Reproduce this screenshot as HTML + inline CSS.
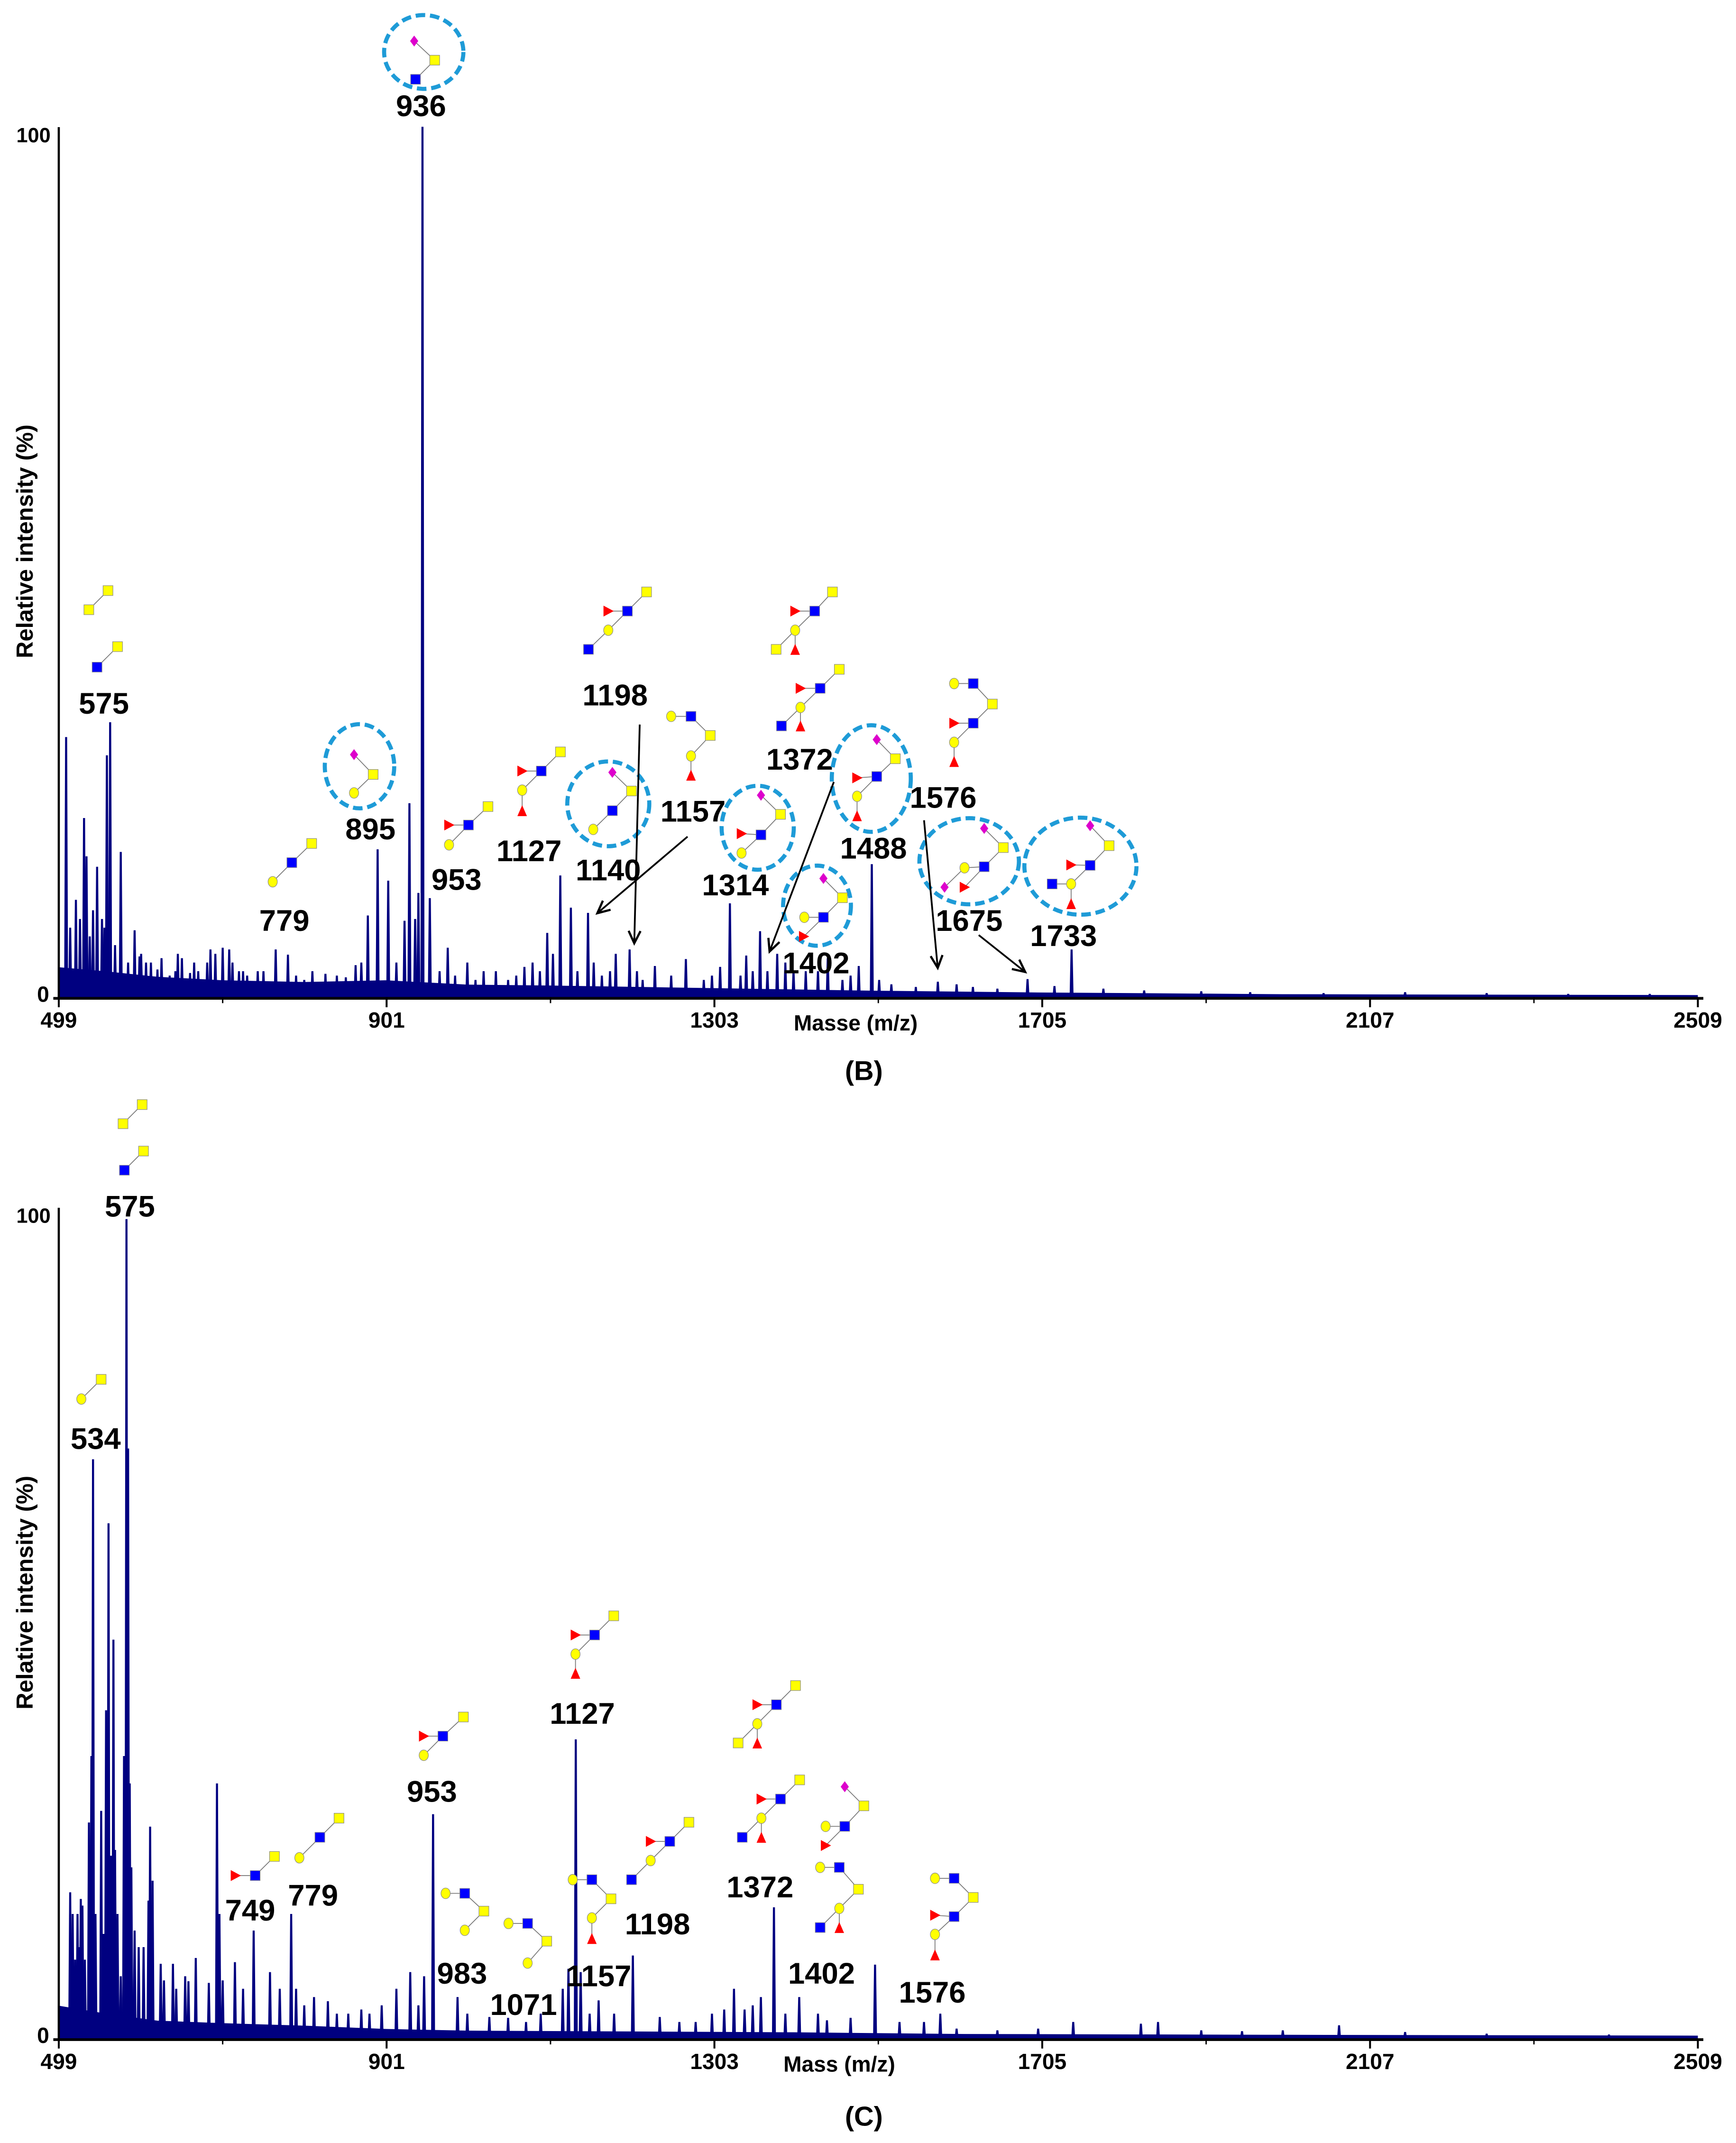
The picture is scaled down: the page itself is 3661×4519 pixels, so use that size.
<!DOCTYPE html>
<html><head><meta charset="utf-8"><style>
html,body{margin:0;padding:0;background:#fff}
svg{display:block}
text{font-family:"Liberation Sans",Arial,sans-serif}
</style></head><body>
<svg id="fig" xmlns="http://www.w3.org/2000/svg" width="3661" height="4519" viewBox="0 0 1270 1567.6">
<rect width="1270" height="1567.6" fill="#fff"/>
<g id="panelB"></g>
<g id="panelC"></g>
</svg>
<script>
// ---------- DATA ----------
const xTickLabels = ["499","901","1303","1705","2107","2509"];
const xTickValues = [499,901,1303,1705,2107,2509];
const yTickLabels = ["0","100"];

const peaksB_mass = [508,520,530,533,537,546,552,558,562,568,575,584,592,598,606,620,635,642,650,660,670,681,691,700,708,720,730,743,765,780,800,826,851,863,878,890,903,913,923,929,936,940,945,954,966,976,985,1010,1035,1050,1070,1089,1098,1114,1127,1135,1148,1165,1182,1199,1215,1230,1268,1290,1322,1335,1342,1359,1368,1380,1400,1430,1442,1460,1480,1496,1520,1550,1577,1620,1650,1687,1720,1741,1780,1830,1900,1960,2050,2150,2250,2350,2450,
 600,612,625,645,665,685,712,725,750,790,810,840,870,1000,1020,1060,1080,1105,1155,1175,1208,1250,1300,1310,1350,1390,1415,1470,1505,1600,513,525,541,555];
const peaksB_int  = [29.9,11.2,20.6,16.2,7,15,9,27.8,31.6,6,16.7,4,7.7,4.7,4,3.2,2.5,3,4.5,2.8,3,4,5,5.7,5.5,3,2.5,3,5.5,4.9,2,2.7,2.3,3.7,9.4,17,13.4,4,8.8,22.3,9,12,100,11.4,3,5.7,2.5,2,3,2,3.5,3,7.4,14,10.3,3,9.7,2.5,5,5.5,2,3.6,4.4,2,10.8,2.5,4.8,7.6,3,5,3,3,4.5,2,3.6,15.3,1.5,1.2,1.8,1.2,1,2.1,1.3,5.5,1,0.8,0.7,0.6,0.5,0.6,0.5,0.4,0.4,
 5,4,4.5,5,4,5.5,4,3,3,2.5,3,2.5,4,4,3,2.5,4,5,4,3,3,2.5,2.5,3.5,3,4,3,2.5,2,1.5,8,9,10,8];
const noiseB_mass = [499,560,620,700,800,900,1000,1100,1300,1500,1700,2000,2509];
const noiseB_level = [3.5,3,2.4,2,1.8,2,1.5,1.4,1.1,0.8,0.6,0.4,0.3];

const peaksC_mass = [513,516,519,522,524,526,528,531,536,539,541,544,551,554,557,560,563,566,568,571,575,579,582,584,586,588,592,597,603,609,611,614,624,628,639,643,654,658,667,683,693,696,700,715,725,738,758,770,784,812,829,854,880,913,930,947,958,988,1027,1072,1117,1124,1133,1139,1161,1203,1236,1280,1315,1327,1340,1360,1376,1407,1441,1500,1580,1600,1650,1700,1743,1826,1847,1900,1950,2000,2069,2150,2250,2400,
 790,800,840,870,895,940,1000,1050,1090,1150,1180,1260,1300,1350,1390,1430,1470,1530,1560];
const peaksC_int  = [17.6,15,9.5,15,11,16.8,16,9.5,26,34,69.7,15,27.4,12.6,39.5,62,22,48,22.7,15,7.5,34,98.6,71,30.7,20.6,13,11,11,16.6,25.5,19,9,7,9,6,7.5,6.9,9.7,6.7,30.7,15,7,9.2,6,13,8,6,15,5,4.5,3,3,6,8,7.5,27,5,2.6,2,6,8.4,36,8,4.6,10,2.6,2,3.5,6,3.5,5,15.8,5,2.2,8.9,3,1.2,1,1.2,2,1.8,2,1,0.9,1,1.6,0.8,0.6,0.5,
 6,4,3,3.5,4,4,3,2.5,3,3,3,2,3,4,3,3,2.5,2,2];
const noiseC_mass = [499,560,620,700,800,900,1000,1200,1400,1600,2000,2509];
const noiseC_level = [4,3,2.2,1.9,1.6,1.2,1.0,0.9,0.8,0.6,0.5,0.4];

// ---------- HELPERS ----------
const NS="http://www.w3.org/2000/svg";
function mk(tag,attrs,parent){const e=document.createElementNS(NS,tag);for(const k in attrs)e.setAttribute(k,attrs[k]);if(parent)parent.appendChild(e);return e;}
const X0=43,X1=1242.1,M0=499,M1=2509;
function xs(m){return X0+(m-M0)/(M1-M0)*(X1-X0);}
const NAVY="#000080";

function drawPanel(g,base,top,pm,pi,nm,nl,xtitle,ylabelY,letter,letterY){
  const ys=v=>base-(v/100)*(base-top);
  let d="M"+xs(nm[0])+","+base;
  for(let i=0;i<nm.length;i++){d+=" L"+xs(nm[i]).toFixed(2)+","+ys(nl[i]).toFixed(2);}
  d+=" L"+xs(nm[nm.length-1])+","+base+" Z";
  const band=mk("path",{d:d,fill:NAVY},g);
  
  
  for(let i=0;i<pm.length;i++){
    const x=xs(pm[i]),y=ys(pi[i]);
    const p=mk("path",{d:`M${(x-1.2).toFixed(2)},${base} L${(x-0.5).toFixed(2)},${y.toFixed(2)} L${(x+0.5).toFixed(2)},${y.toFixed(2)} L${(x+1.2).toFixed(2)},${base} Z`,fill:NAVY,stroke:NAVY,"stroke-width":0.5},g);
    
    
  }
  const ya=mk("line",{x1:X0,y1:top,x2:X0,y2:base,stroke:"#000","stroke-width":1.6},g);
  
  
  const xa=mk("line",{x1:X0-4,y1:base+0.5,x2:X1+4,y2:base+0.5,stroke:"#000","stroke-width":2},g);
  
  
  for(let i=0;i<xTickValues.length;i++){
    const x=xs(xTickValues[i]);
    const t=mk("line",{x1:x,y1:base,x2:x,y2:base+7,stroke:"#000","stroke-width":1.4},g);
    
    
    const tl=mk("text",{x:x,y:base+22,"font-size":16,"font-weight":"bold","text-anchor":"middle","font-family":"Liberation Sans Narrow, Liberation Sans, sans-serif"},g);
    tl.textContent=xTickLabels[i];
    
    
    if(i<xTickValues.length-1){
      const xm=xs((xTickValues[i]+xTickValues[i+1])/2);
      const mt=mk("line",{x1:xm,y1:base,x2:xm,y2:base+4,stroke:"#000","stroke-width":1},g);
      
      
    }
  }
  const y0=mk("text",{x:36,y:base+3,"font-size":16,"font-weight":"bold","text-anchor":"end"},g);
  y0.textContent=yTickLabels[0];
  
  
  const y1=mk("text",{x:37,y:top+11,"font-size":15,"font-weight":"bold","text-anchor":"end","font-family":"Liberation Sans Narrow, Liberation Sans, sans-serif"},g);
  y1.textContent=yTickLabels[1];
  
  
  const yt=mk("text",{x:0,y:0,"font-size":17,"font-weight":"bold","text-anchor":"middle",transform:`translate(24,${ylabelY}) rotate(-90)`},g);
  yt.textContent="Relative intensity (%)";
  
  
  const xt=mk("text",{x:xtitle[1],y:base+24,"font-size":16,"font-weight":"bold","text-anchor":"middle"},g);
  xt.textContent=xtitle[0];
  
  
  const lt=mk("text",{x:632,y:letterY,"font-size":20,"font-weight":"bold","text-anchor":"middle","font-family":"Liberation Serif, serif"},g);
  lt.textContent=letter;
  
  
}

function glycan(g,nodes){
  const gg=mk("g",{},g);
  
  
  nodes.forEach(n=>{ if(n[3]>=0){const p=nodes[n[3]];mk("line",{x1:n[1],y1:n[2],x2:p[1],y2:p[2],stroke:"#777","stroke-width":0.6},gg);} });
  const s=3.6;
  nodes.forEach(n=>{
    const [t,x,y]=n;
    if(t==="Y") mk("rect",{x:x-s,y:y-s,width:2*s,height:2*s,fill:"#ffff00",stroke:"#888","stroke-width":0.4},gg);
    else if(t==="B") mk("rect",{x:x-s,y:y-s,width:2*s,height:2*s,fill:"#0000ff",stroke:"#888","stroke-width":0.4},gg);
    else if(t==="c") mk("ellipse",{cx:x,cy:y,rx:3.4,ry:3.9,fill:"#ffff00",stroke:"#888","stroke-width":0.4},gg);
    else if(t==="M") mk("path",{d:`M${x},${y-4} L${x+3},${y} L${x},${y+4} L${x-3},${y} Z`,fill:"#dd00cc"},gg);
    else if(t==="T") mk("path",{d:`M${x-3.5},${y-4} L${x+4},${y} L${x-3.5},${y+4} Z`,fill:"#ff0000"},gg);
    else if(t==="U") mk("path",{d:`M${x},${y-4} L${x+3.5},${y+4} L${x-3.5},${y+4} Z`,fill:"#ff0000"},gg);
  });
}
function ring(g,cx,cy,rx,ry){
  const e=mk("ellipse",{cx:cx,cy:cy,rx:rx,ry:ry,fill:"none",stroke:"#1e9bd7","stroke-width":3,"stroke-dasharray":"7 3.5"},g);
  
  
}
function label(g,txt,x,y){
  const t=mk("text",{x:x,y:y,"font-size":22,"font-weight":"bold","text-anchor":"middle"},g);
  t.textContent=txt;
  
  
}
function arrow(g,x1,y1,x2,y2){
  const a=mk("g",{},g);
  
  
  mk("line",{x1:x1,y1:y1,x2:x2,y2:y2,stroke:"#000","stroke-width":1.3},a);
  const ang=Math.atan2(y2-y1,x2-x1),L=10,w=0.45;
  const p1=[x2-L*Math.cos(ang-w),y2-L*Math.sin(ang-w)],p2=[x2-L*Math.cos(ang+w),y2-L*Math.sin(ang+w)];
  mk("polyline",{points:`${p1} ${x2},${y2} ${p2}`,fill:"none",stroke:"#000","stroke-width":1.6},a);
}

// ---------- PANEL B ----------
const gB=document.getElementById("panelB");
drawPanel(gB,729.8,93,peaksB_mass,peaksB_int,noiseB_mass,noiseB_level,["Masse (m/z)",626],396,"(B)",790);
[["575",76,522],["779",208,681],["895",271,614],["936",308,85],["953",334,651],["1127",387,630],["1140",445,644],["1157",507,601],["1198",450,516],["1314",538,655],["1372",585,563],["1402",597,712],["1488",639,628],["1576",690,591],["1675",709,681],["1733",778,692]].forEach(l=>label(gB,...l));
[[263,560.5,25.4,30.8],[310,38,29,27],[445,588,30,31],[554.3,605.5,26.4,30.7],[597.7,662.5,24.8,29.3],[637.4,569.5,28.9,39],[709,630,36.4,31.5],[790.4,633.6,41,35.5]].forEach(r=>ring(gB,...r));
[
 [["Y",65,446,-1],["Y",79,432,0]],
 [["B",71,488,-1],["Y",86,473,0]],
 [["c",199.5,645,-1],["B",213.5,631,0],["Y",228,617,1]],
 [["M",259,552,-1],["Y",273,566.5,0],["c",259,580,1]],
 [["M",303,30,-1],["Y",318,44,0],["B",304,58,1]],
 [["c",328.5,618,-1],["B",342.7,603.5,0],["Y",357,590,1],["T",328.5,603.5,1]],
 [["Y",410,550,-1],["B",396,564,0],["T",382,564,1],["c",382,578,1],["U",382,593,3]],
 [["M",448,565,-1],["Y",462,578.6,0],["B",448,593,1],["c",434,606.7,2]],
 [["c",491,524,-1],["B",505.5,524,0],["Y",519.6,538,1],["c",505.5,553,2],["U",505.5,567,3]],
 [["Y",473,433,-1],["B",459,447,0],["T",445,447,1],["c",445,461,1],["B",430.5,475,3]],
 [["M",556.7,581.7,-1],["Y",571,595.7,0],["B",556.7,610.7,1],["T",542.5,609.8,2],["c",542.5,624,2]],
 [["Y",609,433,-1],["B",596,447,0],["T",581.7,447,1],["c",581.7,461,1],["Y",567.8,475,3],["U",581.7,475,3]],
 [["Y",614,489.6,-1],["B",600,503.5,0],["T",585.6,503.5,1],["c",585.6,517.5,1],["B",571.7,531,3],["U",585.6,531,3]],
 [["M",602.4,642.6,-1],["Y",616.3,656.7,0],["B",602.4,671,1],["c",588.4,671,2],["T",588,685,2]],
 [["M",641.4,541,-1],["Y",655,555,0],["B",641.4,568,1],["T",627,569,2],["c",627,582.5,2],["U",627,596.7,4]],
 [["c",698,500,-1],["B",712,500,0],["Y",726,515,1],["B",712,529,2],["T",698,529,3],["c",698,543,3],["U",698,557,5]],
 [["M",720,606,-1],["Y",734,620,0],["B",720,634,1],["c",705.6,634.8,2],["T",705.6,649,2],["M",691,649,3]],
 [["M",797.5,604,-1],["Y",811.4,618.6,0],["B",797.5,633,1],["T",783.6,632.7,2],["c",783.6,646.6,2],["B",769.7,646.6,4],["U",783.6,661,4]]
].forEach(n=>glycan(gB,n));
[[468,530,464,690],[503,612,437,668],[610,572,563,696],[676,600,686,708],[716,684,750,711]].forEach(a=>arrow(gB,...a));

// ---------- PANEL C ----------
const gC=document.getElementById("panelC");
drawPanel(gC,1491.5,883.5,peaksC_mass,peaksC_int,noiseC_mass,noiseC_level,["Mass (m/z)",614],1165,"(C)",1555);
[["575",95,890],["534",70,1060],["749",183,1405],["779",229,1394],["953",316,1318],["983",338,1451],["1071",383,1474],["1127",426,1261],["1157",438,1453],["1198",481,1415],["1372",556,1388],["1402",601,1451],["1576",682,1465]].forEach(l=>label(gC,...l));
[
 [["Y",90,822,-1],["Y",104,808,0]],
 [["B",91,856,-1],["Y",105,842,0]],
 [["c",59.5,1023.4,-1],["Y",74,1009,0]],
 [["T",172.3,1372,-1],["B",186.7,1372,0],["Y",200.8,1358,1]],
 [["c",219,1359,-1],["B",234,1344,0],["Y",248,1330,1]],
 [["c",310,1284,-1],["B",324,1270,0],["Y",339,1256,1],["T",310,1270,1]],
 [["c",326,1385,-1],["B",340,1385,0],["Y",354,1398,1],["c",340,1412,2]],
 [["c",372,1407,-1],["B",386,1407,0],["Y",400,1420,1],["c",386,1436,2]],
 [["Y",449,1182,-1],["B",435,1196,0],["T",421,1196,1],["c",421,1210,1],["U",421,1224,3]],
 [["c",419,1375,-1],["B",433,1375,0],["Y",447,1389,1],["c",433,1403,2],["U",433,1418,3]],
 [["Y",504,1333,-1],["B",490,1347,0],["T",476,1347,1],["c",476,1361,1],["B",462,1375,3]],
 [["Y",582,1233,-1],["B",568,1247,0],["T",554,1247,1],["c",554,1261,1],["Y",540,1275,3],["U",554,1275,3]],
 [["Y",585,1302,-1],["B",571,1316,0],["T",557,1316,1],["c",557,1330,1],["B",543,1344,3],["U",557,1344,3]],
 [["M",618,1307,-1],["Y",632,1321,0],["B",618,1336,1],["c",604,1336,2],["T",604,1350,2]],
 [["c",600,1366,-1],["B",614,1366,0],["Y",628,1382,1],["c",614,1396,2],["B",600,1410,3],["U",614,1410,3]],
 [["c",684,1374,-1],["B",698,1374,0],["Y",712,1388,1],["B",698,1402,2],["T",684,1401,3],["c",684,1415,3],["U",684,1430,5]]
].forEach(n=>glycan(gC,n));
</script>
</body></html>
